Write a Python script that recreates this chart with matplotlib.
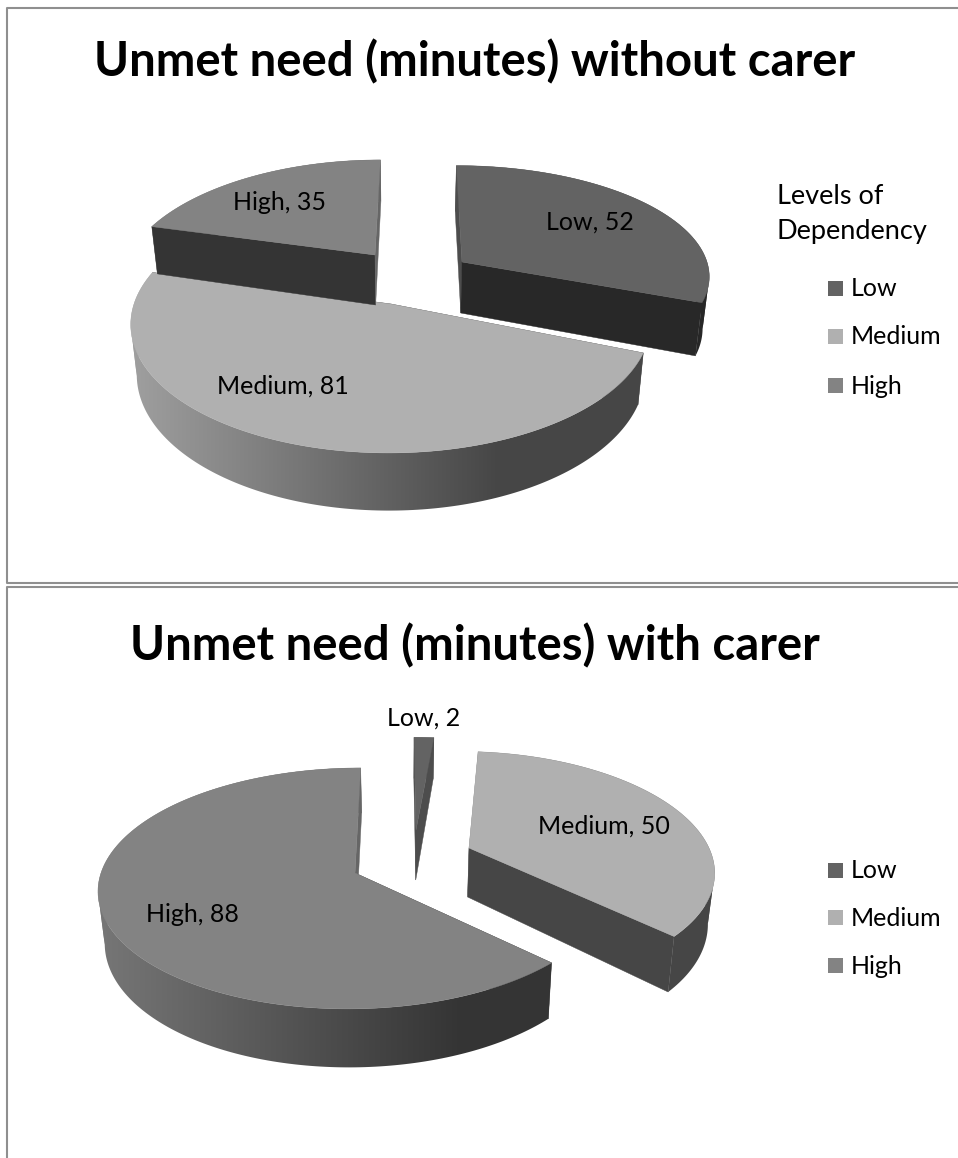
import numpy as np
import matplotlib
matplotlib.use('Agg')
import matplotlib.pyplot as plt
from matplotlib.patches import Polygon, Rectangle

plt.rcParams['font.family'] = ['Lato', 'DejaVu Sans']

categories = ['Low', 'Medium', 'High']
without_carer = [52, 81, 35]
with_carer = [2, 50, 88]
title_top = 'Unmet need (minutes) without carer'
title_bottom = 'Unmet need (minutes) with carer'
legend_title = ['Levels of', 'Dependency']

top_colors = {'Low': '#636363', 'Medium': '#b0b0b0', 'High': '#838383'}
frame_color = '#8f8f8f'

# perspective vanishing x, shared by both charts
VX = 405
TAPER = 0.022

# ax, ay = apex of the top face, rx, ry, p = perspective, depth = wall height
geom_top = {
    'Low': dict(ax=462, ay=262, rx=245, ry=107, p=0.11, depth=51),
    'Medium': dict(ax=391, ay=304, rx=257, ry=126.6, p=0.15, depth=49),
    'High': dict(ax=375, ay=255, rx=246, ry=116, p=0.22, depth=50),
}
geom_bottom = {
    'Low': dict(ax=416, ay=830, rx=270, ry=113, p=0.22, depth=50),
    'Medium': dict(ax=469, ay=848, rx=240, ry=113, p=0.17, depth=49),
    'High': dict(ax=355, ay=873, rx=254, ry=118.5, p=0.128, depth=51),
}

z = [1]


def next_z():
    z[0] += 1
    return z[0]


def project(g, theta):
    u = np.sin(theta)
    v = np.cos(theta)
    s = 1 / (1 + g['p'] * v)
    x = VX + (g['ax'] - VX + g['rx'] * u) * s
    y = g['ay'] - g['ry'] * v * s
    return x, y, s


def drop(g, x, y, s):
    # same point on the lower edge of the wall
    return VX + (x - VX) * (1 - TAPER), y + g['depth'] * s


def shade(color, factor):
    c = np.array(matplotlib.colors.to_rgb(color))
    return tuple(c * factor)


def wall_factor(u):
    return np.clip(0.37 + 0.53 * (0.5 - u) / 1.5, 0.4, 0.92)


def draw_face(ax, g, theta, color):
    # flat cut face between the apex and the rim
    x, y, s = project(g, theta)
    x0, y0 = g['ax'], g['ay']
    xb, yb = drop(g, x, y, s)
    x0b, y0b = drop(g, x0, y0, 1.0)
    f = 0.78 if abs(np.sin(theta)) < 0.3 else 0.4
    ax.fill([x0, x, xb, x0b], [y0, y, yb, y0b], color=shade(color, f), lw=0.3, zorder=next_z())


def draw_wall(ax, g, x, y, xb, yb, color):
    # outer wall, shaded left to right with a clipped gradient
    xs = np.linspace(min(x.min(), xb.min()) - 2, max(x.max(), xb.max()) + 2, 256)
    base = np.array(matplotlib.colors.to_rgb(color))
    grad = np.array([[base * wall_factor((i - g['ax']) / g['rx']) for i in xs]])
    im = ax.imshow(grad, extent=[xs[0], xs[-1], yb.max() + 2, y.min() - 2], aspect='auto',
                   interpolation='bilinear', zorder=next_z())
    clip = Polygon(np.c_[np.r_[x, xb[::-1]], np.r_[y, yb[::-1]]], transform=ax.transData)
    im.set_clip_path(clip)


def draw_slice(ax, g, a0, a1, color):
    thetas = np.radians(np.arange(a0, a1, 1.0))
    thetas = np.append(thetas, np.radians(a1))
    x, y, s = project(g, thetas)
    xb, yb = drop(g, x, y, s)

    # split the wall where the rim turns round, else the clip path folds over itself
    turns = np.where(np.diff(np.sign(np.diff(x))) != 0)[0] + 1
    cuts = [0] + list(turns) + [len(x) - 1]
    for i, j in zip(cuts[:-1], cuts[1:]):
        draw_wall(ax, g, x[i:j + 1], y[i:j + 1], xb[i:j + 1], yb[i:j + 1], color)

    draw_face(ax, g, np.radians(a0), color)
    draw_face(ax, g, np.radians(a1), color)
    ax.fill(np.r_[g['ax'], x], np.r_[g['ay'], y], color=color, lw=0.3, zorder=next_z())


def draw_pie(ax, values, geom, order):
    total = sum(values)
    start = 0
    spans = {}
    for name, val in zip(categories, values):
        spans[name] = (start, start + val / total * 360)
        start += val / total * 360
    for name in order:
        draw_slice(ax, geom[name], spans[name][0], spans[name][1], top_colors[name])


def draw_legend(ax, ys):
    for name, y in zip(categories, ys):
        ax.add_patch(Rectangle((828, y - 7.5), 15, 15, color=top_colors[name], lw=0))
        ax.text(851, y + 1, name, fontsize=18, va='center', ha='left', color='black', zorder=500)


fig = plt.figure(figsize=(9.58, 11.58), dpi=100)
ax = fig.add_axes([0, 0, 1, 1])
ax.set_autoscale_on(False)
ax.set_xlim(0, 958)
ax.set_ylim(1158, 0)
ax.axis('off')

# outer frames of the two pasted charts
ax.plot([958, 7.5, 7.5, 958], [7.5, 7.5, 583, 583], color=frame_color, lw=1.5)
ax.plot([958, 7.5, 7.5], [587, 587, 1158], color=frame_color, lw=1.5)

ax.text(475, 62, title_top, fontsize=34, fontweight='bold', ha='center', va='center')
ax.text(475, 646, title_bottom, fontsize=34, fontweight='bold', ha='center', va='center')

draw_pie(ax, without_carer, geom_top, ['Low', 'Medium', 'High'])
draw_pie(ax, with_carer, geom_bottom, ['Low', 'High', 'Medium'])
ax.set_xlim(0, 958)
ax.set_ylim(1158, 0)

labels_top = {'High': (280, 202), 'Low': (590, 222), 'Medium': (283, 386)}
labels_bottom = {'Low': (424, 718), 'Medium': (604, 826), 'High': (192, 914)}
for name, val in zip(categories, without_carer):
    ax.text(*labels_top[name], f'{name}, {val}', fontsize=18, ha='center', va='center', zorder=500)
for name, val in zip(categories, with_carer):
    ax.text(*labels_bottom[name], f'{name}, {val}', fontsize=18, ha='center', va='center', zorder=500)

ax.text(777, 196, legend_title[0], fontsize=19.5, ha='left', va='center')
ax.text(777, 232, legend_title[1], fontsize=19.5, ha='left', va='center')
draw_legend(ax, [288, 336, 385])
draw_legend(ax, [870, 917, 965])

fig.savefig('out.png', dpi=100)
